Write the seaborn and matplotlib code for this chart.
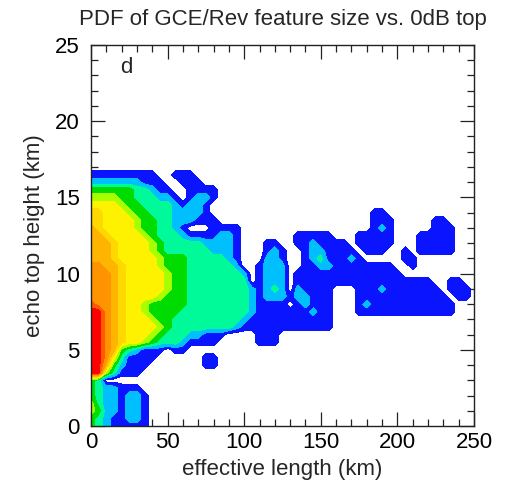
import numpy as np
import matplotlib
matplotlib.use("Agg")
import matplotlib.pyplot as plt
import seaborn as sns
from matplotlib.ticker import MultipleLocator

# ---------------- text ----------------
title = "PDF of GCE/Rev feature size vs. 0dB top"
x_label = "effective length (km)"
y_label = "echo top height (km)"
panel_label = "d"

# ---------------- grid (bin centres) ----------------
length_bins_km = np.arange(0, 251, 5)        # 51 columns, 0..250 km
height_bins_km = np.arange(0, 17.51, 0.5)    # 36 rows, 0..17.5 km

# PDF class per bin (0 = empty, 1..11 = increasing PDF)
# one string per height row, listed from the TOP row (17.5 km) down to 0 km;
# characters: 0-9, a = 10, b = 11
pdf_class_rows = [
    "0" * 51,
    "0" * 51,
    "111111111" + "00" + "111" + "0" * 37,
    "2222222" + "111" + "00" + "111" + "0" * 36,
    "444444" + "33" + "2" + "11" + "00" + "1111" + "0" * 34,
    "5555" + "44" + "333" + "22" + "1" + "0" + "1" + "22" + "1" + "0" * 34,
    "6666" + "5" + "44" + "3333" + "2" + "1" + "22" + "1" + "0" * 35,
    "77" + "666" + "5" + "44" + "333" + "2222" + "1" + "0" * 21 + "11" + "0" * 12,
    "77" + "6666" + "5" + "44" + "33" + "222" + "111" + "0" * 20 + "111" + "0" * 5 + "11" + "0" * 4,
    "8" + "7" + "6666" + "5" + "44" + "33" + "2" + "1" + "000" + "1111" + "0" * 17 + "121" + "0" * 5 + "111" + "000",
    "88" + "7" + "6666" + "5" + "4" + "333" + "2" + "1111" + "22" + "1" + "0" * 7 + "11111" + "000" + "11111" + "000" + "11111" + "000",
    "888" + "7" + "6666" + "5" + "4" + "33333" + "2222" + "1" + "000" + "11" + "00" + "11" + "2" + "1111" + "0" + "11111" + "000" + "11111" + "000",
    "888" + "7" + "6666" + "5" + "4" + "333333" + "222" + "1" + "000" + "1" + "2" + "1" + "00" + "1" + "22" + "1111" + "0" + "111" + "00" + "1" + "0" + "11111" + "000",
    "888" + "7" + "66666" + "5" + "444" + "33333" + "2" + "1" + "000" + "22" + "1" + "00" + "1" + "2" + "3" + "1" + "11" + "2" + "1" + "00000" + "11" + "0" * 8,
    "99" + "88" + "7" + "6666" + "5" + "444" + "333333" + "2" + "00" + "1" + "222" + "00" + "1" + "1" + "22" + "1" * 8 + "00" + "1" + "0" * 8,
    "999" + "8" + "7" + "66666" + "5" + "44" + "3333333" + "2" + "0" + "1" + "222" + "0" + "1111" + "1" * 10 + "0" * 10,
    "999" + "8" + "7" + "66666" + "5" + "44" + "33333333" + "0" + "1" + "222" + "0" + "1" * 18 + "00" + "11" + "00",
    "999" + "8" + "7" + "66666" + "5" + "44" + "33333333" + "2" + "1" + "2" + "3" + "2" + "0" + "2" + "1" + "111" + "000" + "111" + "2" + "1" * 7 + "0" + "111" + "0",
    "999" + "8" + "7" + "6666" + "5" + "444" + "33333333" + "2" + "1" + "222" + "1" + "22" + "111" + "000" + "1" * 12 + "0" + "11" + "0",
    "a" + "99" + "8" + "7" + "66" + "5" + "44444" + "33333333" + "2" + "1" + "111" + "0" + "1" + "2" + "111" + "000" + "1" + "2" + "1" * 11 + "000",
    "bb" + "9" + "8" + "7" + "66" + "5" + "4444" + "3" * 9 + "2" + "1" * 7 + "2" + "11" + "000" + "1" * 13 + "000",
    "bb" + "9" + "8" + "7" + "666" + "5" + "44" + "3" * 9 + "2" + "1" * 11 + "0" * 19,
    "bb" + "9" + "8" + "7" + "6666" + "5" + "4" + "3" * 8 + "2" + "1" * 12 + "0" * 19,
    "bb" + "9" + "8" + "7" + "666" + "5" + "4" + "333" + "22" + "111" + "0000" + "111" + "0" * 26,
    "bb" + "9" + "8" + "7" + "66" + "5" + "4" + "333" + "2" + "1111" + "00000" + "111" + "0" * 26,
    "bb" + "9" + "8" + "4" + "3" + "2" + "111" + "0" + "11" + "0" * 38,
    "bb" + "9" + "6" + "3" + "1111" + "0" * 6 + "11" + "0" * 34,
    "bb" + "8" + "4" + "2" + "111" + "0" * 7 + "11" + "0" * 34,
    "bb" + "5" + "3" + "111" + "0" * 44,
    "43" + "0" * 49,
    "4" + "3" + "22" + "111" + "0" * 44,
    "4" + "3" + "22" + "1" + "22" + "1" + "0" * 43,
    "5" + "3" + "22" + "1" + "22" + "1" + "0" * 43,
    "5" + "4" + "22" + "1" + "22" + "1" + "0" * 43,
    "4" + "3" + "2" + "1" + "1" + "22" + "1" + "0" * 43,
    "4" + "3" + "2" + "11111" + "0" * 43,
]

level_colors = [
    "#0A14FF",  # 1 blue
    "#00BFFF",  # 2 light blue
    "#00FA9A",  # 3 spring green
    "#00DC00",  # 4 green
    "#A8FF00",  # 5 yellow-green
    "#FFF200",  # 6 yellow
    "#FFD800",  # 7 gold
    "#FFB400",  # 8 orange-yellow
    "#FF9400",  # 9 orange
    "#FF5A00",  # 10 dark orange
    "#FF0000",  # 11 red
]

# ---------------- build table ----------------
for r in pdf_class_rows:
    assert len(r) == len(length_bins_km), (len(r), r)
assert len(pdf_class_rows) == len(height_bins_km)
Z = np.array([[int(c, 16) for c in row] for row in pdf_class_rows[::-1]], dtype=float)

# ---------------- style ----------------
sns.set_theme(style="white")
plt.rcParams["font.family"] = ["Liberation Sans", "DejaVu Sans"]

W, H = 510, 488
fig = plt.figure(figsize=(W / 100, H / 100), dpi=100)
ax = fig.add_axes([91 / W, 1 - 426 / H, (474 - 91) / W, (426 - 45) / H])

levels = np.arange(0.5, len(level_colors) + 0.6, 1.0)
ax.contourf(length_bins_km, height_bins_km, Z, levels=levels, colors=level_colors)

ax.set_xlim(0, 250)
ax.set_ylim(0, 25)
ax.xaxis.set_major_locator(MultipleLocator(50))
ax.xaxis.set_minor_locator(MultipleLocator(10))
ax.yaxis.set_major_locator(MultipleLocator(5))
ax.yaxis.set_minor_locator(MultipleLocator(1))
ax.tick_params(which="both", direction="in", top=True, right=True, bottom=True, left=True,
               color="#222222", width=0.9)
ax.tick_params(which="major", length=10, labelsize=16, colors="#222222", labelcolor="black")
ax.tick_params(which="minor", length=5)
ax.tick_params(axis="x", which="major", pad=4)
ax.tick_params(axis="y", which="major", pad=8)
for s in ax.spines.values():
    s.set_color("#222222")
    s.set_linewidth(1.0)

ax.text(23, 23.5, panel_label, fontsize=16, ha="center", va="center")

fig.text(282.5 / W, 1 - 20 / H, title, fontsize=16, ha="center", va="center")
fig.text(282.5 / W, 1 - 470 / H, x_label, fontsize=16, ha="center", va="center")
fig.text(35 / W, 1 - 236 / H, y_label, fontsize=16, ha="center", va="center", rotation=90)

fig.savefig("out.png", dpi=100)
